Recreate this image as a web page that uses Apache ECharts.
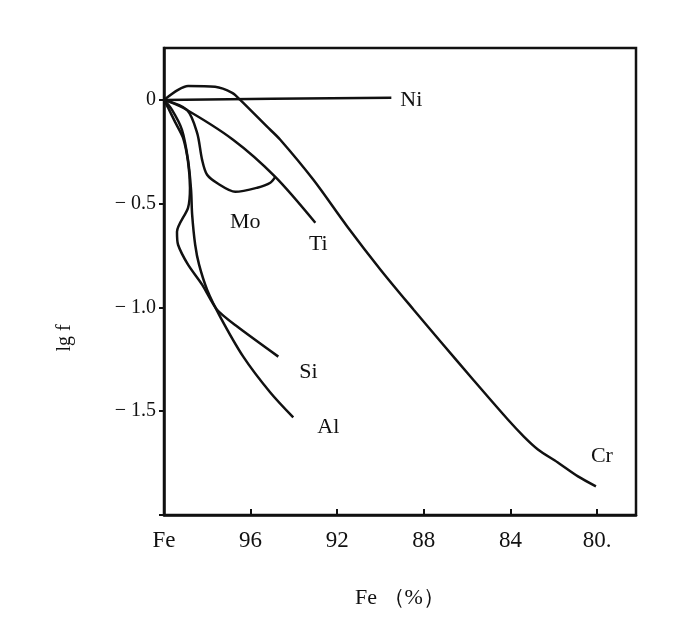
<!DOCTYPE html>
<html>
<head>
<meta charset="utf-8">
<script src="https://cdn.jsdelivr.net/npm/echarts@6/dist/echarts.min.js"></script>
<style>
  html, body { margin: 0; padding: 0; background: #fff; }
  #chart { width: 700px; height: 624px; }
</style>
</head>
<body>
<div id="chart"></div>
<script>
// x: Fe 含量 (%), y: lg f
const xTicks = [100, 96, 92, 88, 84, 80]

const niFe = [100, 95, 89.5]
const niLg = [0, 0.005, 0.01]

const crFe = [100, 99.35, 98.89, 97.64, 96.85, 96.48, 95.25, 94.63, 93.1, 91.53, 90.0, 88.47, 87.22, 85.69, 84.12, 83.38, 82.73, 81.81, 80.88, 80.05]
const crLg = [0, 0.048, 0.067, 0.063, 0.034, 0, -0.128, -0.192, -0.385, -0.611, -0.818, -1.011, -1.165, -1.352, -1.54, -1.622, -1.684, -1.747, -1.814, -1.862]

const tiFe = [100, 99.12, 96.81, 94.86, 93.01]
const tiLg = [0, -0.038, -0.192, -0.371, -0.592]

const moFe = [100, 98.94, 98.47, 98.24, 98.01, 97.5, 96.71, 95.69, 95.09, 94.86]
const moLg = [0, -0.048, -0.159, -0.289, -0.361, -0.404, -0.443, -0.423, -0.399, -0.371]

const siFe = [100, 99.81, 99.49, 99.12, 98.89, 98.8, 98.89, 99.4, 99.35, 98.89, 98.24, 97.55, 96.62, 94.72]
const siLg = [0, -0.038, -0.106, -0.183, -0.298, -0.423, -0.52, -0.635, -0.698, -0.794, -0.89, -1.011, -1.092, -1.237]

const alFe = [100, 99.63, 99.17, 98.89, 98.75, 98.7, 98.56, 98.38, 98.01, 97.41, 96.34, 95.09, 94.03]
const alLg = [0, -0.048, -0.144, -0.289, -0.433, -0.553, -0.698, -0.794, -0.914, -1.044, -1.237, -1.41, -1.53]

const ink = '#111'
const serif = '"Liberation Serif", "DejaVu Serif", serif'

// 组合成点
function pts(xs, ys) {
    return xs.map((x, i) => [x, ys[i]])
}

// 曲线 + 末端标签
function curve(name, xs, ys, offset, smooth) {
    return {
        name: name,
        type: 'line',
        data: pts(xs, ys),
        showSymbol: false,
        smooth: smooth,
        lineStyle: { color: ink, width: 2.5 },
        endLabel: {
            show: true,
            formatter: name,
            distance: 0,
            align: 'center',
            verticalAlign: 'middle',
            offset: offset,
            color: ink,
            fontFamily: serif,
            fontSize: 22
        },
        silent: true
    }
}

const myChart = echarts.init(document.getElementById('chart'))

const option = {
    backgroundColor: '#fff',
    animation: false,
    grid: {
        left: 164,
        right: 64,
        top: 48,
        bottom: 109,
        show: true,
        borderColor: ink,
        borderWidth: 2.5
    },
    xAxis: {
        type: 'value',
        inverse: true,
        min: 78.2,
        max: 100,
        name: 'Fe （%）',
        nameLocation: 'middle',
        nameGap: 72,
        nameTextStyle: { color: ink, fontFamily: serif, fontSize: 22 },
        axisLine: { onZero: false, lineStyle: { color: ink, width: 2.5 } },
        axisTick: { inside: true, length: 6, customValues: xTicks, lineStyle: { color: ink, width: 2 } },
        axisLabel: {
            customValues: xTicks,
            margin: 14,
            color: ink,
            fontFamily: serif,
            fontSize: 23,
            formatter: v => v === 100 ? 'Fe' : (v === 80 ? '80.' : String(v))
        },
        splitLine: { show: false }
    },
    yAxis: {
        type: 'value',
        min: -2,
        max: 0.25,
        interval: 0.5,
        axisLine: { show: true, onZero: false, lineStyle: { color: ink, width: 2.5 } },
        axisTick: { show: true, length: 5, lineStyle: { color: ink, width: 2 } },
        axisLabel: {
            margin: 8,
            showMaxLabel: false,
            color: ink,
            fontFamily: serif,
            fontSize: 20,
            formatter: v => v === 0 ? '0' : (v <= -2 || v > 0 ? '' : '− ' + Math.abs(v).toFixed(1))
        },
        splitLine: { show: false }
    },
    graphic: [
        {
            type: 'text',
            x: 65,
            y: 338,
            rotation: Math.PI / 2,
            style: {
                text: 'lg f',
                fill: ink,
                font: '20px "Liberation Serif", serif',
                textAlign: 'center',
                textVerticalAlign: 'middle'
            }
        }
    ],
    series: [
        curve('Ni', niFe, niLg, [20, 2], false),
        curve('Cr', crFe, crLg, [6, -30], 0.3),
        curve('Ti', tiFe, tiLg, [3, 21], 0.3),
        curve('Mo', moFe, moLg, [-30, 45], 0.3),
        curve('Si', siFe, siLg, [30, 16], 0.25),
        curve('Al', alFe, alLg, [35, 10], 0.3)
    ]
}

myChart.setOption(option)
</script>
</body>
</html>
